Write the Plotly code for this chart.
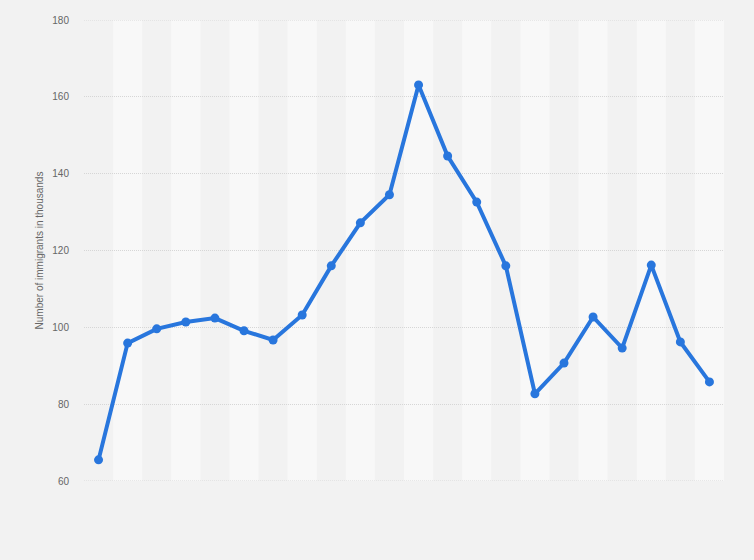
import plotly.graph_objects as go

# Yearly immigrant numbers (thousands)
years = [str(y) for y in range(2000, 2022)]
immigrants = [65.5, 95.9, 99.6, 101.4, 102.4, 99.1, 96.7, 103.2, 116.0, 127.2, 134.5,
              163.1, 144.6, 132.6, 116.0, 82.7, 90.7, 102.7, 94.6, 116.2, 96.2, 85.8]
y_ticks = [60, 80, 100, 120, 140, 160, 180]

fig = go.Figure()

fig.add_trace(go.Scatter(
    x=years,
    y=immigrants,
    mode='lines+markers',
    line=dict(color='#2876dd', width=4),
    marker=dict(color='#2876dd', size=9),
    hoverinfo='x+y',
))

# alternating column stripes
for i in range(len(years)):
    if i % 2 == 1:
        fig.add_shape(type='rect', xref='x', yref='paper',
                      x0=i - 0.5, x1=i + 0.5, y0=0, y1=1,
                      fillcolor='#f8f8f8', line_width=0, layer='below')

# dotted lines on the top and bottom of the range (plotly skips edge gridlines)
for v in (y_ticks[0], y_ticks[-1]):
    fig.add_shape(type='line', xref='paper', yref='y', x0=0, x1=1, y0=v, y1=v,
                  line=dict(color='#d6d6d6', width=1, dash='1px,1px'), layer='below')

fig.update_layout(
    width=754,
    height=560,
    margin=dict(l=84, r=30, t=20, b=79),
    paper_bgcolor='#f2f2f2',
    plot_bgcolor='#f2f2f2',
    showlegend=False,
    font=dict(family='Arial, Liberation Sans, sans-serif', color='#666666'),
)

fig.update_xaxes(
    type='category',
    showticklabels=False,
    showgrid=False,
    zeroline=False,
    showline=False,
    range=[-0.5, len(years) - 0.5],
)

fig.update_yaxes(
    range=[60, 180],
    tickvals=y_ticks,
    tickfont=dict(size=10, color='#666666'),
    ticklabelstandoff=14,
    showgrid=True,
    gridcolor='#d6d6d6',
    griddash='1px,1px',
    gridwidth=1,
    zeroline=False,
    ticks='',
    title=dict(text='Number of immigrants in thousands', font=dict(size=10, color='#666666'), standoff=6),
)

# drop the default page margin so the figure sits at the window corner
fig.write_html("out.html", config={'displayModeBar': False},
               post_script="document.body.style.margin='0';")
